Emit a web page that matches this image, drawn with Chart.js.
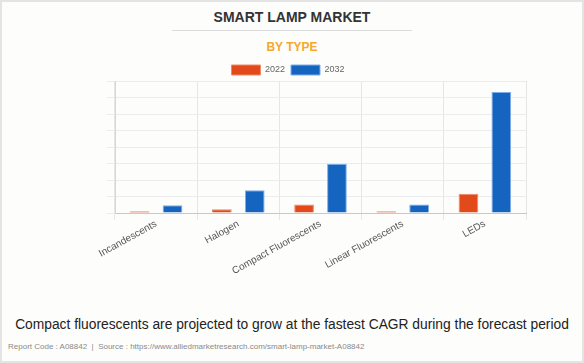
<!DOCTYPE html>
<html>
<head>
<meta charset="utf-8">
<script src="https://cdn.jsdelivr.net/npm/chart.js@4.4.1/dist/chart.umd.min.js"></script>
<style>
  html, body { margin: 0; padding: 0; }
  body { width: 584px; height: 363px; overflow: hidden; background: #fdfdfc; position: relative; font-family: "Liberation Sans", Arial, sans-serif; }
  #frame { position: absolute; left: 0; top: 0; width: 584px; height: 363px; box-sizing: border-box; border: 2px solid #e4e4e4; pointer-events: none; z-index: 5; }
  #title { position: absolute; left: 0; width: 584px; top: 9px; text-align: center; font-weight: bold; font-size: 14px; color: #333; line-height: 16px; }
  #rule { position: absolute; left: 172px; width: 240px; top: 30px; height: 1px; background: #dcdcdc; }
  #sub { position: absolute; left: 0; width: 584px; top: 40px; text-align: center; font-weight: bold; font-size: 12px; color: #f6a82c; line-height: 14px; }
  #wrap { position: absolute; left: 0; top: 55px; width: 584px; height: 235px; }
  #caption { position: absolute; left: 0; width: 584px; top: 316px; text-align: center; font-size: 13.8px; color: #222; line-height: 17px; white-space: nowrap; }
  #source { position: absolute; left: 8px; top: 342px; font-size: 8px; color: #8a8a8a; line-height: 10px; white-space: pre; }
</style>
</head>
<body>
<div id="frame"></div>
<div id="title">SMART LAMP MARKET</div>
<div id="rule"></div>
<div id="sub">BY TYPE</div>
<div id="wrap"><canvas id="c" width="584" height="235"></canvas></div>
<div id="caption">Compact fluorescents are projected to grow at the fastest CAGR during the forecast period</div>
<div id="source">Report Code : A08842  |  Source : https://www.alliedmarketresearch.com/smart-lamp-market-A08842</div>
<script>
const categories = ["Incandescents", "Halogen", "Compact Fluorescents", "Linear Fluorescents", "LEDs"];
const seriesNames = ["2022", "2032"];
const values2022 = [0.10, 0.23, 0.51, 0.10, 1.16];
const values2032 = [0.47, 1.38, 2.99, 0.51, 7.34];

new Chart(document.getElementById('c'), {
  type: 'bar',
  data: {
    labels: categories,
    datasets: [
      { label: seriesNames[0], data: values2022, backgroundColor: '#e2491b', borderColor: '#ef8a64', borderWidth: 1 },
      { label: seriesNames[1], data: values2032, backgroundColor: '#1565c0', borderColor: '#7fadea', borderWidth: 1 }
    ]
  },
  options: {
    responsive: false,
    animation: false,
    devicePixelRatio: 1,
    layout: { padding: { top: 4, left: 0, right: 8, bottom: 0 } },
    datasets: { bar: { categoryPercentage: 0.8, barPercentage: 0.6 } },
    plugins: {
      legend: {
        position: 'top',
        maxHeight: 22,
        labels: {
          boxWidth: 29, boxHeight: 10, padding: 6,
          color: '#666',
          font: { family: '"Liberation Sans", Arial, sans-serif', size: 9 }
        }
      },
      tooltip: { enabled: false },
      title: { display: false }
    },
    scales: {
      x: {
        grid: {
          offset: true,
          color: (ctx) => ctx.index === categories.length ? 'rgba(0,0,0,0)' : '#e6e6e6',
          tickLength: 7,
          lineWidth: 1
        },
        border: { display: true, color: '#c8c8c8' },
        ticks: {
          minRotation: 29, maxRotation: 29, autoSkip: false,
          color: '#555',
          font: { family: '"Liberation Sans", Arial, sans-serif', size: 10 },
          padding: -2
        },
        afterFit: (s) => { s.height = 77; }
      },
      y: {
        min: 0, max: 8,
        ticks: { display: false, stepSize: 1 },
        grid: { color: '#ececec', tickLength: 8, lineWidth: 1 },
        border: { display: true, color: '#d6d6d6' },
        afterFit: (s) => { s.width = 115; }
      },
      yRight: {
        position: 'right',
        display: true,
        min: 0, max: 8,
        ticks: { display: false },
        grid: { display: false, drawTicks: false },
        border: { display: false },
        afterFit: (s) => { s.width = 50; }
      }
    }
  }
});
</script>
</body>
</html>
